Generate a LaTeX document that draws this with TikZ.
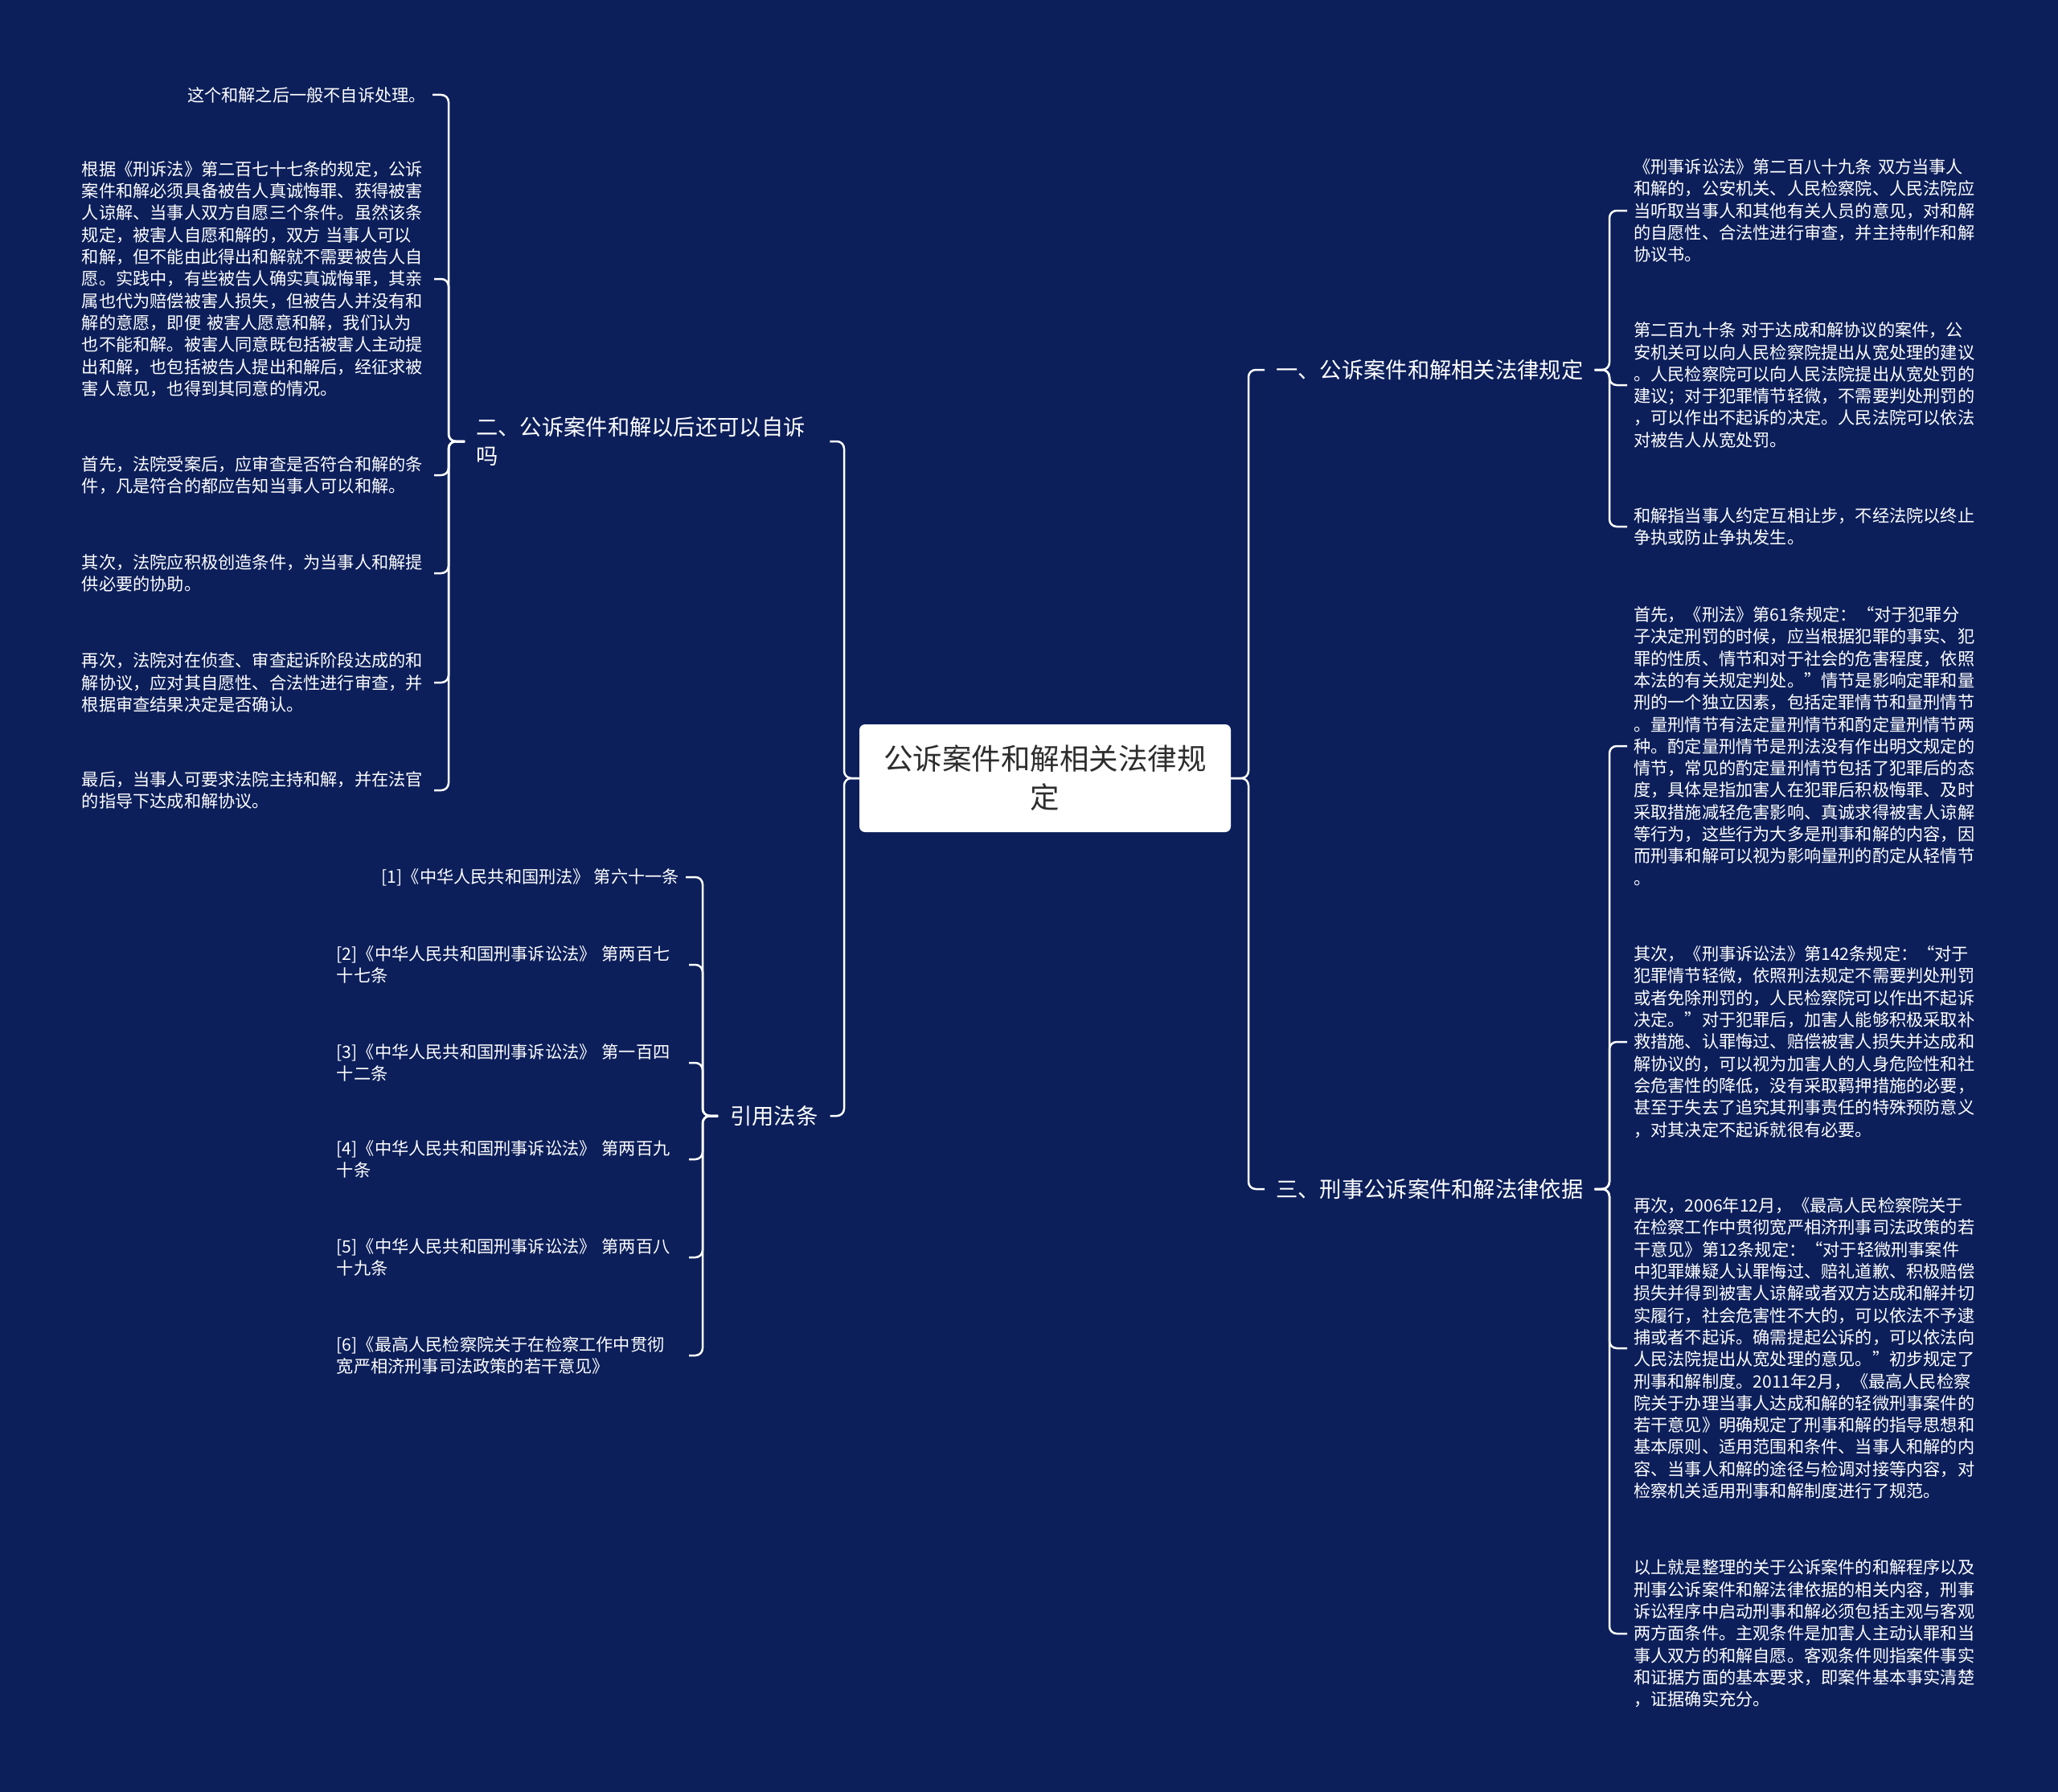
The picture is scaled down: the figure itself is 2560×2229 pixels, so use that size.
\documentclass[tikz,border=0pt]{standalone}
\usepackage{fontspec}
\setmainfont{Noto Sans CJK SC}
\definecolor{bg}{RGB}{12,31,90}
\definecolor{ctext}{RGB}{45,45,45}
\begin{document}
\begin{tikzpicture}[x=1pt,y=-1pt,
  conn/.style={draw=white,line width=2.5pt,rounded corners=9pt},
  leaf/.style={text=white,inner xsep=8pt,inner ysep=2pt,font=\fontsize{21.2}{27.3}\selectfont,align=left},
  leafL/.style={leaf,anchor=east},
  leafR/.style={leaf,anchor=west},
  wide/.style={text width=430pt},
  branch/.style={text=white,inner xsep=14pt,inner ysep=2pt,font=\fontsize{27.3}{36}\selectfont,align=left},
  root/.style={fill=white,rounded corners=7pt,minimum width=462pt,minimum height=134pt,align=center,
    font=\fontsize{36.5}{48}\selectfont,text=ctext,inner sep=0pt}]
\fill[bg] (0,0) rectangle (2560,2229);
\useasboundingbox (0,0) rectangle (2560,2229);

% root
\node[root] (c) at (1300,968) {公诉案件和解相关法律规\\定};

% branches
\node[branch,anchor=west] (b1) at (1573,460) {一、公诉案件和解相关法律规定};
\node[branch,anchor=west] (b3) at (1573,1479) {三、刑事公诉案件和解法律依据};
\node[branch,anchor=west,text width=426pt] (b2) at (578,549) {二、公诉案件和解以后还可以自诉\\吗};
\node[branch,anchor=west,inner xsep=15pt] (b4) at (893,1388) {引用法条};

% bracket x positions
\coordinate (xR) at (1553,0);
\coordinate (xL) at (1050,0);
\coordinate (x1) at (2002,0);
\coordinate (x2) at (558,0);
\coordinate (x4) at (874,0);

% group 二
\node[leafL] (l1) at (538,118) {这个和解之后一般不自诉处理。};
\node[leafL,wide] (l2) at (540,347) {根据《刑诉法》第二百七十七条的规定，公诉\\案件和解必须具备被告人真诚悔罪、获得被害\\人谅解、当事人双方自愿三个条件。虽然该条\\规定，被害人自愿和解的，双方~当事人可以\\和解，但不能由此得出和解就不需要被告人自\\愿。实践中，有些被告人确实真诚悔罪，其亲\\属也代为赔偿被害人损失，但被告人并没有和\\解的意愿，即便~被害人愿意和解，我们认为\\也不能和解。被害人同意既包括被害人主动提\\出和解，也包括被告人提出和解后，经征求被\\害人意见，也得到其同意的情况。};
\node[leafL,wide] (l3) at (540,591) {首先，法院受案后，应审查是否符合和解的条\\件，凡是符合的都应告知当事人可以和解。};
\node[leafL,wide] (l4) at (540,713) {其次，法院应积极创造条件，为当事人和解提\\供必要的协助。};
\node[leafL,wide] (l5) at (540,849) {再次，法院对在侦查、审查起诉阶段达成的和\\解协议，应对其自愿性、合法性进行审查，并\\根据审查结果决定是否确认。};
\node[leafL,wide] (l6) at (540,983) {最后，当事人可要求法院主持和解，并在法官\\的指导下达成和解协议。};

% group 引用法条
\node[leafL] (f1) at (853,1091) {[1]《中华人民共和国刑法》~第六十一条};
\node[leafL,wide] (f2) at (857,1200) {[2]《中华人民共和国刑事诉讼法》~第两百七\\十七条};
\node[leafL,wide] (f3) at (857,1322) {[3]《中华人民共和国刑事诉讼法》~第一百四\\十二条};
\node[leafL,wide] (f4) at (857,1442) {[4]《中华人民共和国刑事诉讼法》~第两百九\\十条};
\node[leafL,wide] (f5) at (857,1564) {[5]《中华人民共和国刑事诉讼法》~第两百八\\十九条};
\node[leafL,wide] (f6) at (857,1686) {[6]《最高人民检察院关于在检察工作中贯彻\\宽严相济刑事司法政策的若干意见》};

% group 一
\node[leafR,wide] (r1) at (2024,262) {《刑事诉讼法》第二百八十九条~双方当事人\\和解的，公安机关、人民检察院、人民法院应\\当听取当事人和其他有关人员的意见，对和解\\的自愿性、合法性进行审查，并主持制作和解\\协议书。};
\node[leafR,wide] (r2) at (2024,479) {第二百九十条~对于达成和解协议的案件，公\\安机关可以向人民检察院提出从宽处理的建议\\。人民检察院可以向人民法院提出从宽处罚的\\建议；对于犯罪情节轻微，不需要判处刑罚的\\，可以作出不起诉的决定。人民法院可以依法\\对被告人从宽处罚。};
\node[leafR,wide] (r3) at (2024,655) {和解指当事人约定互相让步，不经法院以终止\\争执或防止争执发生。};

% group 三
\node[leafR,wide] (r4) at (2024,928) {首先，《刑法》第61条规定：“对于犯罪分\\子决定刑罚的时候，应当根据犯罪的事实、犯\\罪的性质、情节和对于社会的危害程度，依照\\本法的有关规定判处。”情节是影响定罪和量\\刑的一个独立因素，包括定罪情节和量刑情节\\。量刑情节有法定量刑情节和酌定量刑情节两\\种。酌定量刑情节是刑法没有作出明文规定的\\情节，常见的酌定量刑情节包括了犯罪后的态\\度，具体是指加害人在犯罪后积极悔罪、及时\\采取措施减轻危害影响、真诚求得被害人谅解\\等行为，这些行为大多是刑事和解的内容，因\\而刑事和解可以视为影响量刑的酌定从轻情节\\。};
\node[leafR,wide] (r5) at (2024,1296) {其次，《刑事诉讼法》第142条规定：“对于\\犯罪情节轻微，依照刑法规定不需要判处刑罚\\或者免除刑罚的，人民检察院可以作出不起诉\\决定。”对于犯罪后，加害人能够积极采取补\\救措施、认罪悔过、赔偿被害人损失并达成和\\解协议的，可以视为加害人的人身危险性和社\\会危害性的降低，没有采取羁押措施的必要，\\甚至于失去了追究其刑事责任的特殊预防意义\\，对其决定不起诉就很有必要。};
\node[leafR,wide] (r6) at (2024,1677) {再次，2006年12月，《最高人民检察院关于\\在检察工作中贯彻宽严相济刑事司法政策的若\\干意见》第12条规定：“对于轻微刑事案件\\中犯罪嫌疑人认罪悔过、赔礼道歉、积极赔偿\\损失并得到被害人谅解或者双方达成和解并切\\实履行，社会危害性不大的，可以依法不予逮\\捕或者不起诉。确需提起公诉的，可以依法向\\人民法院提出从宽处理的意见。”初步规定了\\刑事和解制度。2011年2月，《最高人民检察\\院关于办理当事人达成和解的轻微刑事案件的\\若干意见》明确规定了刑事和解的指导思想和\\基本原则、适用范围和条件、当事人和解的内\\容、当事人和解的途径与检调对接等内容，对\\检察机关适用刑事和解制度进行了规范。};
\node[leafR,wide] (r7) at (2024,2032) {以上就是整理的关于公诉案件的和解程序以及\\刑事公诉案件和解法律依据的相关内容，刑事\\诉讼程序中启动刑事和解必须包括主观与客观\\两方面条件。主观条件是加害人主动认罪和当\\事人双方的和解自愿。客观条件则指案件事实\\和证据方面的基本要求，即案件基本事实清楚\\，证据确实充分。};

% connectors: root
\foreach \n in {b1,b3} \draw[conn] (c.east) -- (xR |- c.east) -- (xR |- \n.west) -- (\n.west);
\foreach \n in {b2,b4} \draw[conn] (c.west) -- (xL |- c.west) -- (xL |- \n.east) -- (\n.east);
% group 一
\foreach \n in {r1,r2,r3} \draw[conn] (b1.east) -- (x1 |- b1.east) -- (x1 |- \n.west) -- (\n.west);
% group 三
\foreach \n in {r4,r5,r6,r7} \draw[conn] (b3.east) -- (x1 |- b3.east) -- (x1 |- \n.west) -- (\n.west);
% group 二
\foreach \n in {l1,l2,l3,l4,l5,l6} \draw[conn] (b2.west) -- (x2 |- b2.west) -- (x2 |- \n.east) -- (\n.east);
% group 引用法条
\foreach \n in {f1,f2,f3,f4,f5,f6} \draw[conn] (b4.west) -- (x4 |- b4.west) -- (x4 |- \n.east) -- (\n.east);
\end{tikzpicture}
\end{document}
